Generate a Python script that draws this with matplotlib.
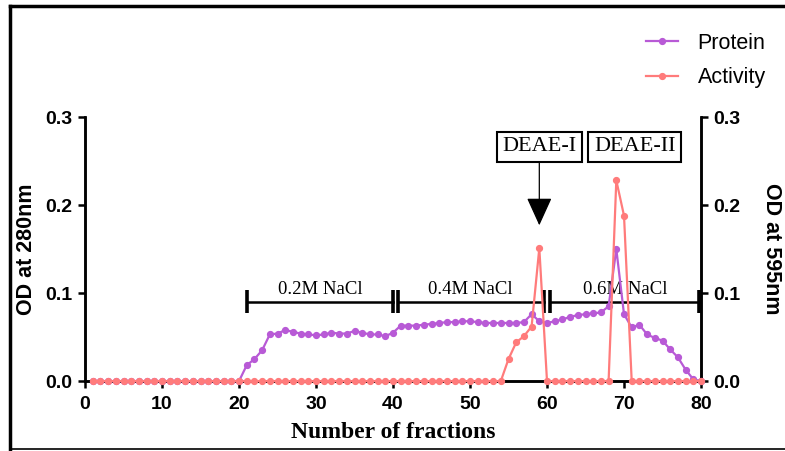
import matplotlib

matplotlib.use("Agg")

import matplotlib.pyplot as plt
from matplotlib.lines import Line2D

# fraction numbers 1..80
fractions = list(range(1, 81))

# OD at 280nm (protein)
protein = (
    [0.0] * 20
    + [0.018, 0.025, 0.035, 0.053, 0.054, 0.058, 0.056, 0.054, 0.053, 0.052,
       0.053, 0.055, 0.054, 0.054, 0.057, 0.055, 0.053, 0.053, 0.051, 0.055,
       0.063, 0.063, 0.063, 0.064, 0.065, 0.066, 0.067, 0.067, 0.068, 0.068,
       0.067, 0.066, 0.066, 0.066, 0.066, 0.066, 0.067, 0.076, 0.068, 0.066,
       0.068, 0.070, 0.073, 0.075, 0.076, 0.077, 0.078, 0.085, 0.150, 0.076,
       0.061, 0.064, 0.053, 0.049, 0.046, 0.036, 0.027, 0.013, 0.002, 0.0]
)

# OD at 595nm (activity)
activity = (
    [0.0] * 54
    + [0.025, 0.044, 0.051, 0.062, 0.151]
    + [0.0] * 9
    + [0.228, 0.188]
    + [0.0] * 10
)

# salt gradient steps: (start, end, label)
salt_steps = [(21, 40.0, "0.2M NaCl"), (40.6, 59.6, "0.4M NaCl"), (60.4, 79.8, "0.6M NaCl")]
salt_level = 0.09

peak_labels = ["DEAE-I", "DEAE-II"]

PURPLE = "#b85ad6"
PINK = "#ff7b7b"

fig = plt.figure(figsize=(7.85, 4.51), dpi=100)
ax = fig.add_axes([0.1083, 0.155, 0.7847, 0.5855])
ax2 = ax.twinx()

lp, = ax.plot(fractions, protein, color=PURPLE, marker="o", markersize=4.2, lw=1.6,
              clip_on=False, zorder=5, label="Protein")
la, = ax.plot(fractions, activity, color=PINK, marker="o", markersize=4.2, lw=1.6,
              clip_on=False, zorder=6, label="Activity")

ax.set_xlim(0, 80)
ax.set_ylim(0, 0.3)
ax2.set_ylim(0, 0.3)
ax.set_xticks(range(0, 81, 10))
ax.set_yticks([0, 0.1, 0.2, 0.3])
ax2.set_yticks([0, 0.1, 0.2, 0.3])
ax.set_yticklabels([f"{v:.1f}" for v in [0, 0.1, 0.2, 0.3]])
ax2.set_yticklabels([f"{v:.1f}" for v in [0, 0.1, 0.2, 0.3]])

for a in (ax, ax2):
    a.spines["top"].set_visible(False)
    for s in ("left", "right", "bottom"):
        a.spines[s].set_linewidth(1.8)
    a.tick_params(width=1.8, length=5, labelsize=14, direction="out", pad=4)
    for lab in a.get_xticklabels() + a.get_yticklabels():
        lab.set_fontweight("bold")
        lab.set_family("Liberation Sans")
ax.tick_params(axis="x", pad=6)
ax.set_zorder(ax2.get_zorder() + 1)
ax.patch.set_visible(False)

ax.set_ylabel("OD at 280nm", fontsize=15.5, fontweight="bold", family="Liberation Sans", labelpad=6)
ax2.set_ylabel("OD at 595nm", fontsize=15.5, fontweight="bold", family="Liberation Sans",
               rotation=270, labelpad=30)
ax.set_xlabel("Number of fractions", fontsize=17, fontweight="bold", family="Liberation Serif",
              labelpad=6)

# salt step bars
for start, end, label in salt_steps:
    ax.plot([start, end], [salt_level, salt_level], color="black", lw=1.8, zorder=3)
    for xc in (start, end):
        ax.plot([xc, xc], [salt_level - 0.013, salt_level + 0.013], color="black", lw=2.6,
                zorder=3, solid_capstyle="butt")
    ax.text((start + end) / 2, salt_level + 0.004, label, ha="center", va="bottom",
            fontsize=13.5, family="Liberation Serif")

# peak boxes
box = dict(boxstyle="square,pad=0.25", fc="white", ec="black", lw=1.5)
ax.annotate(peak_labels[0], xy=(59, 0.177), xytext=(59, 0.266), ha="center", va="center",
            fontsize=16, family="Liberation Serif", bbox=box,
            arrowprops=dict(arrowstyle="-|>,head_length=1.1,head_width=0.5", color="black",
                            lw=0.9, shrinkA=0, shrinkB=0))
ax.text(71.4, 0.266, peak_labels[1], ha="center", va="center", fontsize=16,
        family="Liberation Serif", bbox=box)

fig.legend(handles=[lp, la], loc="upper right", bbox_to_anchor=(1.0, 0.97), frameon=False,
           prop={"family": "Liberation Sans", "size": 15.5}, handlelength=1.5,
           handletextpad=0.9, labelspacing=0.62)

# outer frame (partial border of the original image)
fig.add_artist(Line2D([0.0125, 1.0], [0.9865, 0.9865], color="black", lw=2.5, transform=fig.transFigure))
fig.add_artist(Line2D([0.0125, 0.0125], [0.0045, 0.9865], color="black", lw=2.5, transform=fig.transFigure))
fig.add_artist(Line2D([0.0125, 1.0], [0.0045, 0.0045], color="black", lw=1.2, transform=fig.transFigure))

fig.savefig("out.png", dpi=100)
